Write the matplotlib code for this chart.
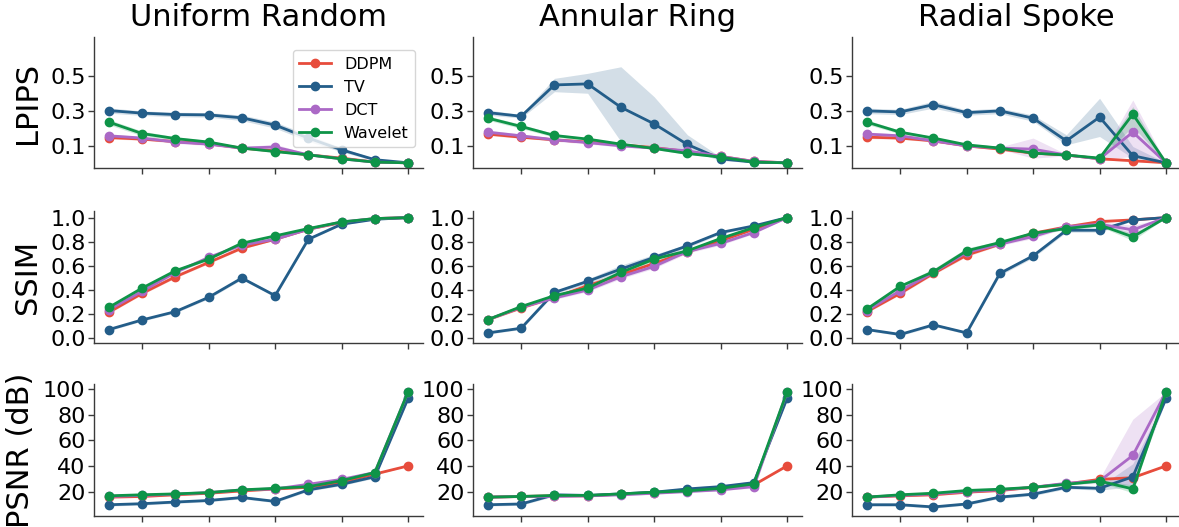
import matplotlib
matplotlib.use("Agg")
import matplotlib.pyplot as plt
import numpy as np

# ---------------- data ----------------
x_vals = [0.1, 0.2, 0.3, 0.4, 0.5, 0.6, 0.7, 0.8, 0.9, 1.0]
x_ticks = [0.2, 0.4, 0.6, 0.8, 1.0]
methods = ["DDPM", "TV", "DCT", "Wavelet"]
masks = ["Uniform Random", "Annular Ring", "Radial Spoke"]
metrics = ["LPIPS", "SSIM", "PSNR (dB)"]

# LPIPS means
lpips_uniform = {
    "DDPM":    [0.146, 0.137, 0.123, 0.110, 0.085, 0.069, 0.046, 0.027, 0.004, 0.0],
    "TV":      [0.302, 0.287, 0.279, 0.277, 0.260, 0.218, 0.143, 0.075, 0.018, 0.0],
    "DCT":     [0.156, 0.143, 0.120, 0.108, 0.085, 0.091, 0.046, 0.023, 0.004, 0.0],
    "Wavelet": [0.235, 0.169, 0.140, 0.120, 0.085, 0.065, 0.046, 0.023, 0.004, 0.0],
}
lpips_annular = {
    "DDPM":    [0.166, 0.148, 0.133, 0.120, 0.104, 0.088, 0.065, 0.037, 0.008, 0.0],
    "TV":      [0.290, 0.269, 0.450, 0.456, 0.321, 0.225, 0.106, 0.023, 0.004, 0.0],
    "DCT":     [0.177, 0.156, 0.133, 0.117, 0.098, 0.085, 0.069, 0.037, 0.008, 0.0],
    "Wavelet": [0.258, 0.210, 0.158, 0.137, 0.108, 0.083, 0.054, 0.033, 0.004, 0.0],
}
lpips_radial = {
    "DDPM":    [0.148, 0.143, 0.127, 0.098, 0.079, 0.056, 0.045, 0.023, 0.012, 0.0],
    "TV":      [0.300, 0.294, 0.336, 0.290, 0.300, 0.258, 0.127, 0.264, 0.041, 0.0],
    "DCT":     [0.166, 0.156, 0.127, 0.098, 0.085, 0.079, 0.045, 0.023, 0.177, 0.0],
    "Wavelet": [0.235, 0.177, 0.143, 0.104, 0.085, 0.056, 0.045, 0.027, 0.281, 0.0],
}

# SSIM means
ssim_uniform = {
    "DDPM":    [0.213, 0.370, 0.508, 0.627, 0.746, 0.820, 0.903, 0.959, 0.992, 1.0],
    "TV":      [0.069, 0.149, 0.218, 0.337, 0.497, 0.351, 0.820, 0.945, 0.986, 1.0],
    "DCT":     [0.235, 0.387, 0.544, 0.669, 0.771, 0.820, 0.903, 0.964, 0.992, 1.0],
    "Wavelet": [0.254, 0.414, 0.558, 0.655, 0.787, 0.848, 0.909, 0.964, 0.992, 1.0],
}
ssim_annular = {
    "DDPM":    [0.152, 0.249, 0.337, 0.434, 0.525, 0.619, 0.715, 0.807, 0.903, 1.0],
    "TV":      [0.041, 0.080, 0.378, 0.470, 0.572, 0.669, 0.765, 0.876, 0.931, 1.0],
    "DCT":     [0.152, 0.254, 0.331, 0.398, 0.508, 0.594, 0.718, 0.785, 0.876, 1.0],
    "Wavelet": [0.152, 0.260, 0.351, 0.414, 0.544, 0.655, 0.724, 0.826, 0.917, 1.0],
}
ssim_radial = {
    "DDPM":    [0.218, 0.370, 0.536, 0.688, 0.779, 0.870, 0.923, 0.967, 0.981, 1.0],
    "TV":      [0.069, 0.028, 0.108, 0.041, 0.536, 0.682, 0.895, 0.895, 0.981, 1.0],
    "DCT":     [0.227, 0.392, 0.544, 0.710, 0.779, 0.843, 0.925, 0.945, 0.898, 1.0],
    "Wavelet": [0.240, 0.428, 0.550, 0.724, 0.793, 0.870, 0.909, 0.939, 0.840, 1.0],
}

# PSNR means
psnr_uniform = {
    "DDPM":    [16.2, 16.7, 18.0, 19.2, 21.0, 22.5, 23.8, 27.6, 34.0, 40.3],
    "TV":      [10.3, 11.1, 12.4, 13.6, 15.9, 12.9, 21.8, 26.1, 31.9, 92.4],
    "DCT":     [16.7, 17.5, 18.5, 19.7, 21.8, 22.5, 26.1, 29.9, 35.2, 97.5],
    "Wavelet": [17.2, 18.0, 18.7, 19.7, 21.8, 23.0, 24.3, 28.9, 35.2, 97.5],
}
psnr_annular = {
    "DDPM":    [16.2, 16.7, 17.2, 17.2, 18.5, 19.7, 21.0, 22.5, 25.6, 40.3],
    "TV":      [10.3, 10.9, 18.0, 17.5, 18.7, 20.0, 22.5, 24.3, 27.4, 92.4],
    "DCT":     [16.2, 16.7, 16.7, 17.2, 18.0, 19.2, 20.5, 21.8, 24.3, 97.5],
    "Wavelet": [16.2, 16.7, 17.5, 17.5, 18.7, 20.0, 21.0, 23.0, 26.4, 97.5],
}
psnr_radial = {
    "DDPM":    [16.2, 17.2, 18.0, 20.0, 21.3, 23.8, 26.4, 29.9, 31.2, 40.3],
    "TV":      [10.3, 10.3, 8.6, 10.9, 16.2, 18.5, 23.8, 23.0, 31.9, 92.4],
    "DCT":     [16.2, 17.5, 18.7, 20.5, 21.8, 23.8, 26.9, 28.6, 48.4, 97.5],
    "Wavelet": [16.2, 18.0, 19.2, 21.3, 22.3, 23.8, 26.1, 28.6, 22.5, 97.5],
}

# Shaded band bounds (lower, upper)
lpips_uniform_band = {
    "DDPM":    ([0.138, 0.130, 0.116, 0.104, 0.080, 0.064, 0.042, 0.024, 0.002, 0.0],
                [0.154, 0.144, 0.130, 0.116, 0.090, 0.074, 0.050, 0.030, 0.006, 0.0]),
    "TV":      ([0.287, 0.274, 0.266, 0.264, 0.244, 0.200, 0.125, 0.063, 0.012, 0.0],
                [0.317, 0.300, 0.292, 0.290, 0.276, 0.236, 0.161, 0.087, 0.024, 0.0]),
    "DCT":     ([0.146, 0.134, 0.112, 0.100, 0.078, 0.074, 0.040, 0.019, 0.002, 0.0],
                [0.166, 0.152, 0.128, 0.116, 0.092, 0.108, 0.052, 0.027, 0.006, 0.0]),
    "Wavelet": ([0.220, 0.155, 0.130, 0.112, 0.079, 0.060, 0.042, 0.020, 0.002, 0.0],
                [0.250, 0.183, 0.150, 0.128, 0.091, 0.070, 0.050, 0.026, 0.006, 0.0]),
}
lpips_annular_band = {
    "DDPM":    ([0.158, 0.141, 0.127, 0.114, 0.098, 0.083, 0.061, 0.033, 0.006, 0.0],
                [0.174, 0.155, 0.139, 0.126, 0.110, 0.093, 0.069, 0.041, 0.010, 0.0]),
    "TV":      ([0.275, 0.259, 0.411, 0.402, 0.123, 0.094, 0.075, 0.013, 0.001, 0.0],
                [0.305, 0.279, 0.488, 0.517, 0.555, 0.382, 0.162, 0.033, 0.007, 0.0]),
    "DCT":     ([0.165, 0.146, 0.124, 0.109, 0.091, 0.079, 0.063, 0.031, 0.005, 0.0],
                [0.189, 0.166, 0.142, 0.125, 0.105, 0.091, 0.075, 0.043, 0.011, 0.0]),
    "Wavelet": ([0.246, 0.198, 0.148, 0.129, 0.101, 0.077, 0.049, 0.029, 0.002, 0.0],
                [0.270, 0.222, 0.168, 0.145, 0.115, 0.089, 0.059, 0.037, 0.006, 0.0]),
}
lpips_radial_band = {
    "DDPM":    ([0.140, 0.136, 0.120, 0.092, 0.074, 0.051, 0.041, 0.019, 0.006, 0.0],
                [0.156, 0.150, 0.134, 0.104, 0.084, 0.061, 0.049, 0.027, 0.018, 0.0]),
    "TV":      ([0.284, 0.279, 0.316, 0.275, 0.284, 0.240, 0.104, 0.152, 0.027, 0.0],
                [0.316, 0.309, 0.356, 0.305, 0.316, 0.276, 0.162, 0.373, 0.094, 0.0]),
    "DCT":     ([0.154, 0.146, 0.119, 0.091, 0.078, 0.027, 0.040, 0.018, 0.037, 0.0],
                [0.178, 0.166, 0.135, 0.105, 0.092, 0.143, 0.050, 0.028, 0.363, 0.0]),
    "Wavelet": ([0.222, 0.167, 0.135, 0.098, 0.080, 0.051, 0.041, 0.022, 0.210, 0.0],
                [0.248, 0.187, 0.151, 0.110, 0.090, 0.061, 0.049, 0.032, 0.325, 0.0]),
}

ssim_uniform_band = {
    "DDPM":    ([0.203, 0.360, 0.498, 0.617, 0.738, 0.813, 0.898, 0.955, 0.990, 1.0],
                [0.223, 0.380, 0.518, 0.637, 0.754, 0.827, 0.908, 0.963, 0.994, 1.0]),
    "TV":      ([0.059, 0.139, 0.208, 0.325, 0.485, 0.339, 0.810, 0.939, 0.983, 1.0],
                [0.079, 0.159, 0.228, 0.349, 0.509, 0.363, 0.830, 0.951, 0.989, 1.0]),
    "DCT":     ([0.223, 0.375, 0.532, 0.657, 0.761, 0.810, 0.896, 0.959, 0.990, 1.0],
                [0.247, 0.399, 0.556, 0.681, 0.781, 0.830, 0.910, 0.969, 0.994, 1.0]),
    "Wavelet": ([0.244, 0.404, 0.548, 0.645, 0.779, 0.841, 0.904, 0.960, 0.990, 1.0],
                [0.264, 0.424, 0.568, 0.665, 0.795, 0.855, 0.914, 0.968, 0.994, 1.0]),
}
ssim_annular_band = {
    "DDPM":    ([0.142, 0.239, 0.327, 0.422, 0.511, 0.605, 0.703, 0.797, 0.895, 1.0],
                [0.162, 0.259, 0.347, 0.446, 0.539, 0.633, 0.727, 0.817, 0.911, 1.0]),
    "TV":      ([0.031, 0.070, 0.366, 0.450, 0.545, 0.645, 0.750, 0.864, 0.923, 1.0],
                [0.051, 0.090, 0.390, 0.490, 0.605, 0.693, 0.780, 0.888, 0.939, 1.0]),
    "DCT":     ([0.142, 0.244, 0.319, 0.384, 0.492, 0.578, 0.704, 0.771, 0.866, 1.0],
                [0.162, 0.264, 0.343, 0.412, 0.524, 0.610, 0.732, 0.799, 0.886, 1.0]),
    "Wavelet": ([0.142, 0.250, 0.341, 0.402, 0.530, 0.641, 0.712, 0.814, 0.909, 1.0],
                [0.162, 0.270, 0.361, 0.426, 0.558, 0.669, 0.736, 0.838, 0.925, 1.0]),
}
ssim_radial_band = {
    "DDPM":    ([0.208, 0.360, 0.524, 0.676, 0.769, 0.862, 0.915, 0.959, 0.975, 1.0],
                [0.228, 0.380, 0.548, 0.700, 0.789, 0.878, 0.931, 0.975, 0.987, 1.0]),
    "TV":      ([0.059, 0.018, 0.096, 0.031, 0.520, 0.666, 0.879, 0.879, 0.973, 1.0],
                [0.079, 0.038, 0.120, 0.051, 0.552, 0.698, 0.911, 0.911, 0.989, 1.0]),
    "DCT":     ([0.215, 0.378, 0.530, 0.694, 0.767, 0.827, 0.913, 0.925, 0.860, 1.0],
                [0.239, 0.406, 0.558, 0.726, 0.791, 0.859, 0.937, 0.965, 0.936, 1.0]),
    "Wavelet": ([0.228, 0.412, 0.526, 0.700, 0.781, 0.858, 0.899, 0.927, 0.810, 1.0],
                [0.252, 0.444, 0.574, 0.748, 0.805, 0.882, 0.919, 0.951, 0.870, 1.0]),
}

psnr_uniform_band = {
    "DDPM":    ([15.4, 15.9, 17.2, 18.4, 20.2, 21.7, 23.0, 26.8, 33.2, 40.3],
                [17.0, 17.5, 18.8, 20.0, 21.8, 23.3, 24.6, 28.4, 34.8, 40.3]),
    "TV":      ([9.3, 10.1, 11.4, 12.6, 14.9, 11.9, 20.8, 25.1, 30.9, 91.4],
                [11.3, 12.1, 13.4, 14.6, 16.9, 13.9, 22.8, 27.1, 32.9, 93.4]),
    "DCT":     ([15.9, 16.7, 17.7, 18.9, 21.0, 21.7, 25.1, 28.9, 34.2, 97.5],
                [17.5, 18.3, 19.3, 20.5, 22.6, 23.3, 27.1, 30.9, 36.2, 97.5]),
    "Wavelet": ([16.4, 17.2, 17.9, 18.9, 21.0, 22.2, 23.5, 28.1, 34.4, 97.5],
                [18.0, 18.8, 19.5, 20.5, 22.6, 23.8, 25.1, 29.7, 36.0, 97.5]),
}
psnr_annular_band = {
    "DDPM":    ([15.4, 15.9, 16.4, 16.4, 17.7, 18.9, 20.2, 21.7, 24.8, 40.3],
                [17.0, 17.5, 18.0, 18.0, 19.3, 20.5, 21.8, 23.3, 26.4, 40.3]),
    "TV":      ([9.3, 9.9, 17.0, 16.5, 17.7, 19.0, 21.3, 23.1, 26.2, 91.4],
                [11.3, 11.9, 19.0, 18.5, 19.7, 21.0, 23.7, 25.5, 28.6, 93.4]),
    "DCT":     ([15.4, 15.9, 15.9, 16.4, 17.2, 18.4, 19.7, 21.0, 23.5, 97.5],
                [17.0, 17.5, 17.5, 18.0, 18.8, 20.0, 21.3, 22.6, 25.1, 97.5]),
    "Wavelet": ([15.4, 15.9, 16.7, 16.7, 17.9, 19.2, 20.2, 22.2, 25.6, 97.5],
                [17.0, 17.5, 18.3, 18.3, 19.5, 20.8, 21.8, 23.8, 27.2, 97.5]),
}
psnr_radial_band = {
    "DDPM":    ([15.4, 16.4, 17.2, 19.2, 20.5, 23.0, 25.6, 29.1, 30.4, 40.3],
                [17.0, 18.0, 18.8, 20.8, 22.1, 24.6, 27.2, 30.7, 32.0, 40.3]),
    "TV":      ([9.3, 9.3, 7.6, 9.9, 15.2, 17.3, 22.6, 21.6, 24.3, 91.4],
                [11.3, 11.3, 9.6, 11.9, 17.2, 19.7, 25.0, 24.4, 42.0, 93.4]),
    "DCT":     ([15.4, 16.7, 17.9, 19.7, 21.0, 23.0, 25.9, 26.8, 25.6, 97.5],
                [17.0, 18.3, 19.5, 21.3, 22.6, 24.6, 27.9, 30.4, 76.4, 97.5]),
    "Wavelet": ([15.4, 17.2, 18.4, 20.5, 21.5, 23.0, 25.3, 27.6, 19.5, 97.5],
                [17.0, 18.8, 20.0, 22.1, 23.1, 24.6, 26.9, 29.6, 25.5, 97.5]),
}

lpips_ticks = [0.1, 0.3, 0.5]
ssim_ticks = [0.0, 0.2, 0.4, 0.6, 0.8, 1.0]
psnr_ticks = [20, 40, 60, 80, 100]

# ---------------- style ----------------
colors = {"DDPM": "#e74c3c", "TV": "#235d89", "DCT": "#ab69c6", "Wavelet": "#0e9448"}

W, H = 1179, 527
fig = plt.figure(figsize=(W / 100, H / 100), dpi=100)

col_left = [94, 473, 852]
col_w = 329
row_top = [37, 211, 384]
row_h = [131, 132, 132]

means = [
    [lpips_uniform, lpips_annular, lpips_radial],
    [ssim_uniform, ssim_annular, ssim_radial],
    [psnr_uniform, psnr_annular, psnr_radial],
]
bands = [
    [lpips_uniform_band, lpips_annular_band, lpips_radial_band],
    [ssim_uniform_band, ssim_annular_band, ssim_radial_band],
    [psnr_uniform_band, psnr_annular_band, psnr_radial_band],
]
yticks = [lpips_ticks, ssim_ticks, psnr_ticks]
ylims = [(-0.03, 0.727), (-0.043, 1.055), (1.6, 103.6)]
ytick_fmt = [lambda v: f"{v:.1f}", lambda v: f"{v:.1f}", lambda v: f"{int(v)}"]

spine_col = "#3a3a3a"
for r in range(3):
    for c in range(3):
        rect = [col_left[c] / W, 1 - (row_top[r] + row_h[r]) / H, col_w / W, row_h[r] / H]
        ax = fig.add_axes(rect)
        for m in methods:
            lo, hi = bands[r][c][m]
            ax.fill_between(x_vals, lo, hi, color=colors[m], alpha=0.2, linewidth=0)
            ax.plot(x_vals, means[r][c][m], color=colors[m], marker="o", lw=2,
                    markersize=6, label=m)
        ax.set_xlim(0.055, 1.045)
        ax.set_ylim(*ylims[r])
        ax.set_xticks(x_ticks)
        ax.set_xticklabels([])
        ax.set_yticks(yticks[r])
        ax.set_yticklabels([ytick_fmt[r](v) for v in yticks[r]])
        ax.tick_params(axis="both", labelsize=16, color=spine_col, length=4, width=1,
                       pad=2)
        for s in ["top", "right"]:
            ax.spines[s].set_visible(False)
        for s in ["left", "bottom"]:
            ax.spines[s].set_color(spine_col)
            ax.spines[s].set_linewidth(1.0)
        if r == 0:
            ax.set_title(masks[c], fontsize=22, pad=8)
        if c == 0:
            ax.set_ylabel(metrics[r], fontsize=22, labelpad=6)
        if r == 0 and c == 0:
            ax.legend(loc="upper right", fontsize=11.5, frameon=True,
                      borderpad=0.4, labelspacing=0.5, handlelength=2.0,
                      bbox_to_anchor=(1.0, 0.96))

fig.savefig("out.png", dpi=100)
